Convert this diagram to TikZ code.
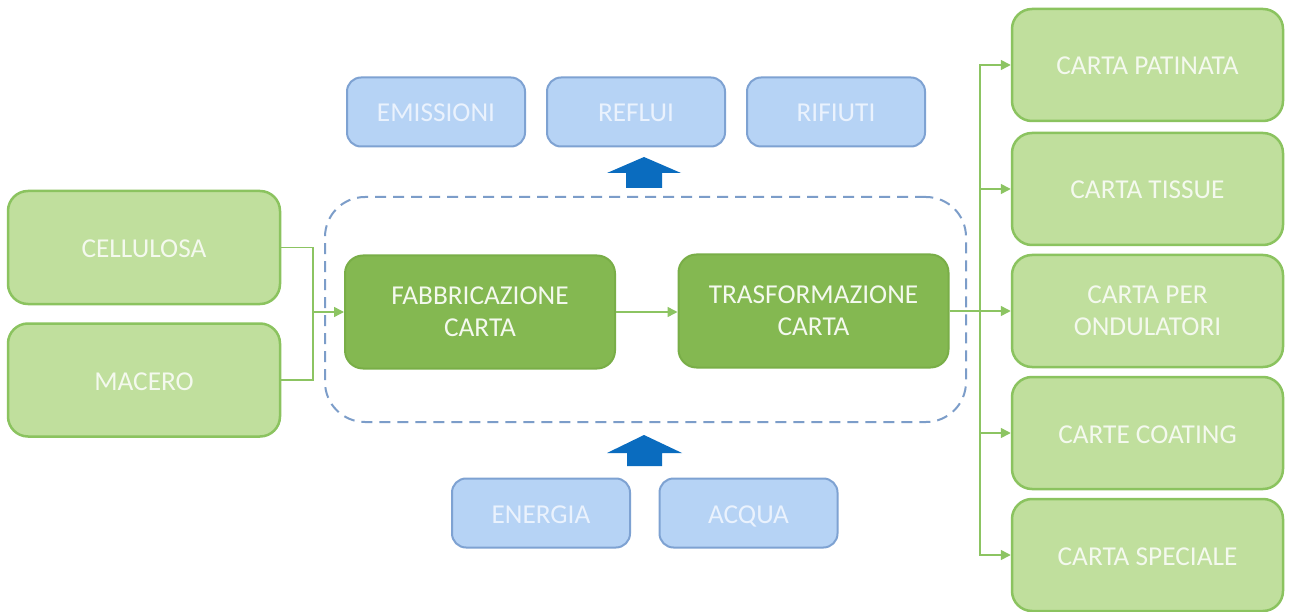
\documentclass[tikz,border=0pt]{standalone}
\usepackage{fontspec}
\setmainfont{Carlito}
\usetikzlibrary{arrows.meta}
\definecolor{lgfill}{HTML}{C0DF9D}
\definecolor{lgdraw}{HTML}{8BC35F}
\definecolor{dgfill}{HTML}{84B851}
\definecolor{dgdraw}{HTML}{79AE47}
\definecolor{bfill}{HTML}{B6D3F5}
\definecolor{bdraw}{HTML}{7EA2D2}
\definecolor{darr}{HTML}{0A6CBF}
\definecolor{dash}{HTML}{7C9DC9}
\definecolor{gline}{HTML}{8CC462}
\definecolor{ltxt}{HTML}{F4F9EE}
\definecolor{btxt}{HTML}{EAF2FD}
\begin{document}
\begin{tikzpicture}[x=1pt,y=-1pt,
  txt/.style={font=\fontsize{27.3}{32}\selectfont, inner sep=0pt},
  ml/.style={align=center},
  oneline/.style={text height=20pt, text depth=0pt},
  lbox/.style={txt, draw=lgdraw, fill=lgfill, line width=2.5pt, rounded corners=20pt, text=ltxt, minimum width=#1, minimum height=113pt},
  lbox/.default=271pt,
  dbox/.style={txt, ml, draw=dgdraw, fill=dgfill, line width=2pt, rounded corners=18pt, text=ltxt, minimum width=270pt, minimum height=113pt},
  bbox/.style={txt, oneline, draw=bdraw, fill=bfill, line width=2pt, rounded corners=14pt, text=btxt, minimum width=178pt, minimum height=69pt},
  conn/.style={draw=gline, line width=1.5pt},
  arr/.style={conn, -{Triangle[length=10pt,width=10pt]}},
  fatarrow/.style={fill=darr, draw=none}
]
\useasboundingbox (0,0) rectangle (1290,612);
\fill[white] (0,0) rectangle (1290,612);

% dashed process frame
\node[draw=dash, dash pattern=on 11pt off 7pt, line width=2pt, rounded corners=40pt,
      minimum width=641pt, minimum height=225pt, inner sep=0pt] (frame) at (645.5,309.5) {};

% inputs
\node[lbox=272pt, oneline] (cell) at (144,247.5) {CELLULOSA};
\node[lbox=272pt, oneline] (mac) at (144,380) {MACERO};

% process
\node[dbox] (fab) at (480,312) {FABBRICAZIONE\\CARTA};
\node[dbox] (tra) at (813.5,311) {TRASFORMAZIONE\\CARTA};

% outputs top
\node[bbox] (emi) at (436,112) {EMISSIONI};
\node[bbox] (ref) at (636,112) {REFLUI};
\node[bbox] (rif) at (836,112) {RIFIUTI};

% inputs bottom
\node[bbox] (ene) at (541,513) {ENERGIA};
\node[bbox] (acq) at (748.5,513) {ACQUA};

% products
\node[lbox, oneline, minimum height=112pt] (p1) at (1147.5,65) {CARTA PATINATA};
\node[lbox, oneline, minimum height=112pt] (p2) at (1147.5,189) {CARTA TISSUE};
\node[lbox, ml, minimum height=112pt] (p3) at (1147.5,311) {CARTA PER\\ONDULATORI};
\node[lbox, oneline, minimum height=112pt] (p4) at (1147.5,433) {CARTE COATING};
\node[lbox, oneline, minimum height=112pt] (p5) at (1147.5,555) {CARTA SPECIALE};

% fat blue arrows
\fill[fatarrow] (644,157) -- (681,173) -- (662,173) -- (662,188) -- (626,188) -- (626,173) -- (607,173) -- cycle;
\fill[fatarrow] (644,435) -- (682,453) -- (662,453) -- (662,466) -- (627,466) -- (627,453) -- (607,453) -- cycle;

% connectors left
\coordinate (jl) at (313,312);
\draw[conn] (cell.east) -| (jl);
\draw[conn] (mac.east) -| (jl);
\draw[arr] (jl) -- (fab.west);

% between processes
\draw[arr] (fab.east) -- (fab.east -| tra.west);

% right fan-out
\coordinate (jr) at (980,311);
\draw[conn] (tra.east) -- (jr);
\foreach \p in {p1,p2,p3,p4,p5}{
  \draw[arr] (jr) |- (\p.west);
}
\end{tikzpicture}
\end{document}
